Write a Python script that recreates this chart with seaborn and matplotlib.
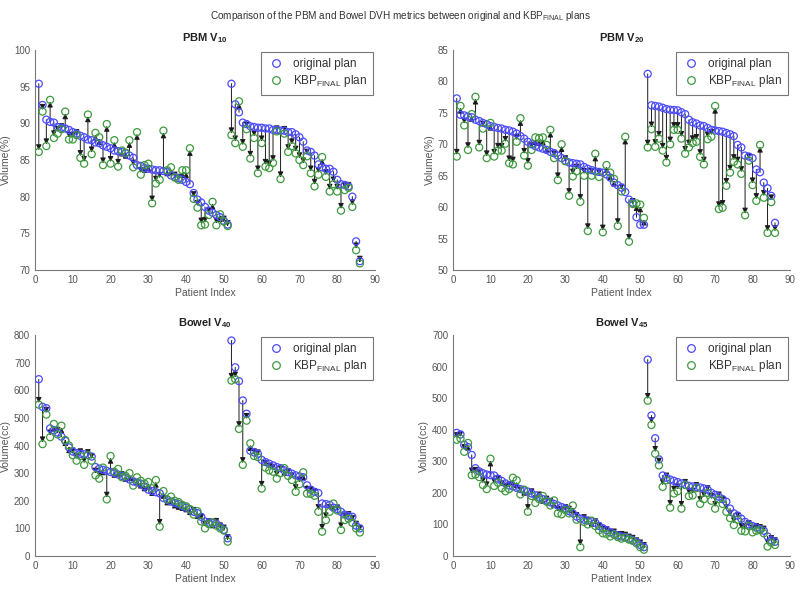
import numpy as np
import pandas as pd
import matplotlib
matplotlib.use("Agg")
import matplotlib.pyplot as plt
from matplotlib.lines import Line2D
import seaborn as sns

patient_index = list(range(1, 87))

pbm_v10_original = [95.4, 92.5, 90.5, 90.2, 90.1, 89.5, 89.4, 89.3, 89.1, 88.8, 88.6, 88.3, 88.1, 87.8, 87.7, 87.4, 87.3,
                    87.0, 86.8, 86.6, 86.3, 86.2, 86.1, 85.9, 85.6, 85.3, 84.3, 84.2, 83.9, 83.8, 83.7, 83.6, 83.6, 83.5,
                    83.4, 82.9, 82.7, 82.5, 82.3, 82.0, 81.7, 80.5, 79.6, 79.2, 78.6, 78.1, 77.8, 77.5, 77.2, 76.7, 76.2,
                    95.4, 92.6, 91.5, 90.1, 89.9, 89.6, 89.5, 89.4, 89.4, 89.3, 89.3, 89.1, 89.1, 89.0, 89.0, 88.8, 88.8,
                    88.5, 88.1, 87.5, 86.3, 86.1, 85.6, 84.4, 84.0, 83.8, 83.8, 83.4, 82.3, 81.7, 81.6, 81.4, 80.0, 73.9, 71.2]
pbm_v10_kbp = [86.1, 91.6, 86.9, 93.2, 88.0, 88.6, 89.2, 91.6, 87.8, 87.8, 88.4, 85.3, 84.5, 91.2, 85.8, 88.7, 88.1,
               84.3, 89.9, 84.5, 87.7, 84.1, 86.3, 86.0, 87.7, 84.0, 88.8, 83.0, 84.3, 84.5, 79.1, 81.8, 82.3, 89.0,
               83.6, 84.0, 82.6, 82.3, 83.6, 83.6, 86.6, 79.7, 78.5, 76.1, 76.2, 77.5, 79.3, 76.1, 77.6, 76.6, 76.0,
               88.4, 87.3, 93.0, 86.8, 89.2, 85.2, 88.0, 83.2, 87.3, 84.1, 83.9, 84.6, 88.9, 82.4, 88.6, 86.1, 86.9,
               85.9, 85.0, 84.3, 85.5, 83.2, 81.4, 83.0, 85.4, 82.7, 80.7, 81.7, 80.7, 78.1, 80.9, 81.2, 78.6, 72.7, 70.9]

pbm_v20_original = [77.3, 74.7, 74.6, 74.4, 74.3, 73.9, 73.7, 73.4, 73.2, 72.9, 72.75, 72.6, 72.5, 72.3, 72.2, 72.0, 71.7,
                    71.3, 70.9, 70.4, 70.0, 69.7, 69.5, 69.3, 69.1, 68.8, 68.6, 68.2, 67.8, 67.4, 67.1, 67.0, 66.9, 66.8,
                    66.4, 66.1, 65.9, 65.7, 65.6, 65.5, 65.2, 64.7, 63.9, 63.5, 63.1, 62.4, 61.2, 60.7, 58.4, 57.2, 57.2,
                    81.2, 76.2, 76.1, 76.0, 75.8, 75.6, 75.5, 75.45, 75.4, 75.1, 74.8, 73.9, 73.5, 73.3, 73.0, 72.9, 72.6,
                    72.3, 72.2, 72.1, 72.0, 71.8, 71.6, 71.3, 69.9, 69.5, 68.2, 68.05, 67.8, 66.0, 65.55, 63.9, 63.0, 61.8, 57.5]
pbm_v20_kbp = [68.05, 76.1, 73.0, 69.1, 74.8, 77.55, 69.5, 72.5, 67.8, 73.4, 68.05, 69.0, 69.0, 70.1, 67.0, 66.8, 70.4,
               74.15, 68.2, 66.6, 69.1, 71.1, 71.0, 71.1, 69.9, 72.3, 67.8, 64.3, 70.0, 67.3, 61.8, 64.9, 65.7, 60.85,
               65.0, 56.2, 65.0, 68.5, 64.8, 56.0, 66.7, 65.5, 64.5, 57.0, 62.5, 71.2, 54.5, 60.5, 60.6, 60.4, 58.3,
               69.5, 72.4, 69.6, 70.9, 69.0, 67.1, 70.0, 72.3, 72.3, 70.9, 68.5, 69.5, 70.2, 70.4, 68.0, 66.8, 70.8,
               71.2, 76.1, 59.7, 59.9, 63.4, 65.5, 67.2, 66.8, 65.3, 58.7, 67.4, 63.5, 61.0, 69.9, 61.5, 55.9, 60.8, 55.9]

bowel_v40_original = [640, 540, 535, 462, 455, 447, 432, 417, 393, 378, 372, 370, 368, 366, 360, 322, 316, 312, 308, 304,
                      300, 295, 290, 284, 277, 270, 266, 262, 252, 240, 235, 231, 227, 210, 203, 197, 192, 188, 181, 175,
                      168, 160, 155, 142, 125, 121, 119, 117, 106, 95, 64,
                      780, 683, 633, 563, 515, 381, 375, 370, 348, 340, 334, 328, 322, 318, 310, 304, 298, 292, 288, 285,
                      256, 240, 232, 228, 190, 188, 185, 175, 170, 160, 150, 145, 142, 110, 100]
bowel_v40_kbp = [548, 405, 512, 430, 478, 440, 472, 420, 400, 365, 345, 362, 330, 365, 345, 292, 280, 320, 205, 362,
                 305, 315, 285, 290, 300, 255, 285, 272, 262, 268, 245, 275, 106, 235, 205, 215, 200, 195, 185, 180,
                 170, 150, 162, 125, 100, 115, 122, 110, 100, 92, 52,
                 635, 640, 460, 330, 490, 408, 362, 358, 244, 320, 310, 305, 280, 300, 318, 290, 275, 232, 260, 303,
                 226, 225, 218, 160, 88, 130, 160, 190, 165, 94, 130, 135, 120, 100, 85]

bowel_v45_original = [390, 385, 352, 345, 320, 278, 268, 262, 258, 256, 255, 245, 238, 230, 224, 220, 216, 212, 208, 204,
                      198, 192, 186, 180, 175, 170, 165, 160, 155, 150, 142, 135, 125, 118, 115, 112, 110, 105, 95, 88,
                      82, 75, 70, 65, 62, 60, 55, 50, 45, 35, 28,
                      622, 445, 373, 306, 255, 248, 242, 238, 234, 230, 226, 222, 220, 218, 217, 214, 210, 200, 194, 188,
                      180, 172, 150, 135, 128, 118, 108, 100, 95, 90, 85, 80, 62, 50, 45]
bowel_v45_kbp = [368, 372, 330, 358, 256, 258, 250, 225, 212, 308, 222, 232, 215, 205, 212, 248, 240, 195, 210, 140,
                 190, 168, 180, 190, 172, 160, 176, 135, 132, 145, 135, 160, 115, 28, 108, 100, 112, 95, 82, 72,
                 70, 62, 68, 60, 55, 58, 52, 48, 40, 28, 20,
                 492, 415, 324, 287, 219, 240, 153, 198, 205, 150, 225, 190, 192, 215, 165, 180, 200, 175, 150, 180,
                 165, 140, 120, 98, 115, 80, 78, 95, 75, 80, 82, 72, 30, 42, 35]

titles = [r"PBM $\mathbf{V_{10}}$", r"PBM $\mathbf{V_{20}}$", r"Bowel $\mathbf{V_{40}}$", r"Bowel $\mathbf{V_{45}}$"]
ylabels = ["Volume(%)", "Volume(%)", "Volume(cc)", "Volume(cc)"]
legend_labels = ["original plan", r"KBP$_{\mathrm{FINAL}}$ plan"]
x_ticks = [0, 10, 20, 30, 40, 50, 60, 70, 80, 90]

sns.set_style("white")
plt.rcParams['font.family'] = ['Liberation Sans', 'DejaVu Sans']
plt.rcParams['mathtext.fontset'] = 'custom'
plt.rcParams['mathtext.rm'] = 'Liberation Sans'
plt.rcParams['mathtext.bf'] = 'Liberation Sans:bold'
plt.rcParams['mathtext.it'] = 'Liberation Sans:italic'

BLUE = '#4b4bff'
GREEN = '#3f9a3f'
AX_COL = '#7a7a7a'
TXT_COL = '#555555'

fig = plt.figure(figsize=(8.0, 5.89), dpi=100)
positions = [
    [35/800, 1-270/589, 340/800, 220/589],
    [453/800, 1-270/589, 337/800, 220/589],
    [35/800, 1-556/589, 340/800, 221/589],
    [453/800, 1-556/589, 337/800, 221/589],
]
datasets = [
    (pbm_v10_original, pbm_v10_kbp, (70, 100), np.arange(70, 101, 5)),
    (pbm_v20_original, pbm_v20_kbp, (50, 85), np.arange(50, 86, 5)),
    (bowel_v40_original, bowel_v40_kbp, (0, 800), np.arange(0, 801, 100)),
    (bowel_v45_original, bowel_v45_kbp, (0, 700), np.arange(0, 701, 100)),
]

for pos, (orig, kbp, ylim, yt), title, ylab in zip(positions, datasets, titles, ylabels):
    ax = fig.add_axes(pos)
    df = pd.DataFrame({"Patient Index": patient_index, "original": orig, "kbp": kbp})
    for _, r in df.iterrows():
        ax.annotate('', xy=(r["Patient Index"], r["kbp"]), xytext=(r["Patient Index"], r["original"]),
                    arrowprops=dict(arrowstyle='-|>,head_length=0.32,head_width=0.16', color='#1a1a1a',
                                    lw=0.7, shrinkA=0, shrinkB=1.2), zorder=2)
    sns.scatterplot(data=df, x="Patient Index", y="original", ax=ax, marker='o', s=26,
                    facecolors='none', edgecolors=BLUE, linewidth=0.9, zorder=3, legend=False)
    sns.scatterplot(data=df, x="Patient Index", y="kbp", ax=ax, marker='o', s=26,
                    facecolors='none', edgecolors=GREEN, linewidth=0.9, zorder=3, legend=False)
    ax.set_xlim(0, 90)
    ax.set_ylim(*ylim)
    ax.set_xticks(x_ticks)
    ax.set_yticks(yt)
    ax.tick_params(direction='in', length=3, width=0.7, colors=AX_COL, labelcolor=TXT_COL, labelsize=7)
    for s in ['top', 'right']:
        ax.spines[s].set_visible(False)
    for s in ['left', 'bottom']:
        ax.spines[s].set_color(AX_COL)
        ax.spines[s].set_linewidth(0.8)
    ax.set_xlabel("Patient Index", fontsize=7.5, color=TXT_COL, labelpad=2)
    ax.set_ylabel(ylab, fontsize=7.5, color=TXT_COL, labelpad=2)
    ax.set_title(title, fontsize=8, fontweight='bold', color='#222222', pad=6)
    handles = [Line2D([], [], marker='o', linestyle='none', markerfacecolor='none', markeredgecolor=BLUE,
                      markersize=5.5, markeredgewidth=0.9),
               Line2D([], [], marker='o', linestyle='none', markerfacecolor='none', markeredgecolor=GREEN,
                      markersize=5.5, markeredgewidth=0.9)]
    leg = ax.legend(handles, legend_labels, loc='upper right',
                    fontsize=8.5, frameon=True, fancybox=False, borderpad=0.45, handletextpad=0.7,
                    labelspacing=0.3, borderaxespad=0.2, handlelength=1.6)
    leg.get_frame().set_edgecolor('#555555')
    leg.get_frame().set_linewidth(0.8)
    for t in leg.get_texts():
        t.set_color('#333333')

fig.suptitle(r"Comparison of the PBM and Bowel DVH metrics between original and KBP$_{\mathrm{FINAL}}$ plans",
             fontsize=7.2, color='#333333', y=0.985)
fig.savefig("out.png", dpi=100)
